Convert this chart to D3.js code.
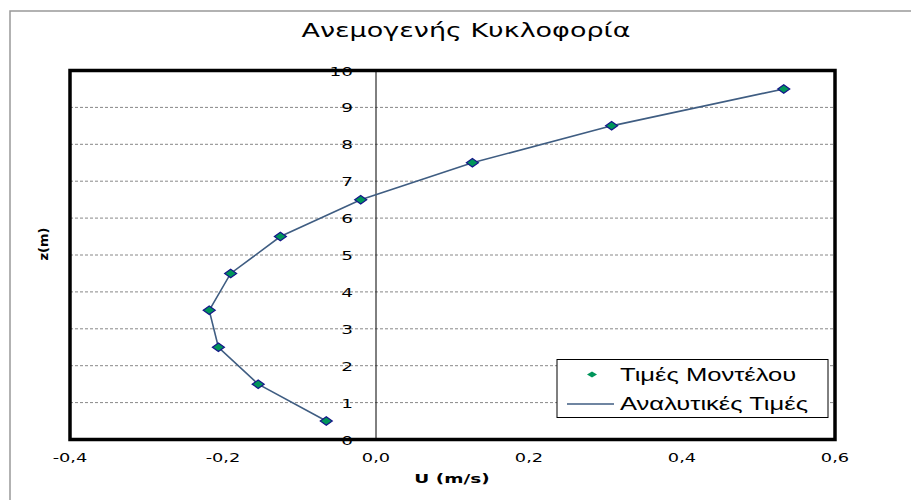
<!DOCTYPE html>
<html lang="el">
<head>
  <meta charset="UTF-8">
  <title>Ανεμογενής Κυκλοφορία</title>
  <script src="https://cdnjs.cloudflare.com/ajax/libs/d3/7.8.5/d3.min.js"></script>
  <style>
    * { margin: 0; padding: 0; }
    html, body { background: #fff; }
    svg { display: block; font-family: "DejaVu Sans", Verdana, sans-serif; }
  </style>
</head>
<body>
<div id="chart"></div>
<script>
  // depth (m) and values U (m/s)
  const zValues = [0.5, 1.5, 2.5, 3.5, 4.5, 5.5, 6.5, 7.5, 8.5, 9.5]
  const modelU = [-0.065, -0.154, -0.206, -0.218, -0.190, -0.125, -0.020, 0.126, 0.308, 0.533]
  const analyticU = [-0.065, -0.154, -0.206, -0.218, -0.190, -0.125, -0.020, 0.126, 0.308, 0.533]
  const xTicks = [-0.4, -0.2, 0.0, 0.2, 0.4, 0.6]
  const yTicks = [0, 1, 2, 3, 4, 5, 6, 7, 8, 9, 10]
  const legendLabels = ['Τιμές Μοντέλου', 'Αναλυτικές Τιμές']

  const W = 911, H = 500
  const plot = { left: 70, right: 835, top: 70.5, bottom: 439.5 }
  // the original picture is stretched sideways, so texts get a wider box
  const stretch = 1.42

  const svg = d3.select('#chart').append('svg')
    .attr('width', W).attr('height', H)

  // outer chart frame
  svg.append('rect')
    .attr('x', 10).attr('y', 11).attr('width', W + 10).attr('height', H + 10)
    .attr('fill', '#fff').attr('stroke', '#999').attr('stroke-width', 1.5)

  const wide = (sel) => sel.each(function() {
    const w = this.getComputedTextLength()
    d3.select(this).attr('textLength', w * stretch).attr('lengthAdjust', 'spacingAndGlyphs')
  })

  svg.append('text')
    .attr('x', 466).attr('y', 37)
    .attr('text-anchor', 'middle')
    .attr('font-size', 19)
    .text('Ανεμογενής Κυκλοφορία')
    .call(wide)

  const x = d3.scaleLinear().domain([-0.4, 0.6]).range([plot.left, plot.right])
  const y = d3.scaleLinear().domain([0, 10]).range([plot.bottom, plot.top])

  // dashed gridlines
  svg.append('g').selectAll('line')
    .data(yTicks.filter(d => d > 0 && d < 10))
    .join('line')
    .attr('x1', plot.left).attr('x2', plot.right)
    .attr('y1', d => y(d)).attr('y2', d => y(d))
    .attr('stroke', '#888').attr('stroke-width', 1)
    .attr('stroke-dasharray', '3,2')

  // vertical axis at U = 0
  svg.append('line')
    .attr('x1', x(0)).attr('x2', x(0))
    .attr('y1', plot.top).attr('y2', plot.bottom)
    .attr('stroke', '#000').attr('stroke-width', 1)

  // x axis tick labels
  const fmt = d => d3.format('.1f')(d).replace('.', ',').replace('−', '-')
  svg.append('g').selectAll('text')
    .data(xTicks).join('text')
    .attr('x', d => x(d)).attr('y', 462)
    .attr('text-anchor', 'middle')
    .attr('font-size', 12.5)
    .text(fmt)
    .call(wide)

  // y tick labels, sitting left of the zero line
  svg.append('g').selectAll('text')
    .data(yTicks).join('text')
    .attr('x', x(0) - 23).attr('y', d => y(d) + 5)
    .attr('text-anchor', 'end')
    .attr('font-size', 13)
    .text(d => d)
    .call(wide)

  // analytic curve
  const line = d3.line()
    .x(d => x(d)).y((d, i) => y(zValues[i]))
  svg.append('path')
    .datum(analyticU)
    .attr('fill', 'none')
    .attr('stroke', '#3f5d82')
    .attr('stroke-width', 1.6)
    .attr('d', line)

  // wide diamond marker
  const diamond = (w, h) => `M${-w / 2},0L0,${-h / 2}L${w / 2},0L0,${h / 2}Z`
  svg.append('g').selectAll('path')
    .data(modelU).join('path')
    .attr('transform', (d, i) => `translate(${x(d)},${y(zValues[i])})`)
    .attr('d', diamond(12, 8.5))
    .attr('fill', '#00955a')
    .attr('stroke', '#15158a')
    .attr('stroke-width', 1.2)

  // plot frame on top
  svg.append('rect')
    .attr('x', plot.left).attr('y', plot.top)
    .attr('width', plot.right - plot.left).attr('height', plot.bottom - plot.top)
    .attr('fill', 'none').attr('stroke', '#000').attr('stroke-width', 3.5)

  // axis titles
  svg.append('text')
    .attr('x', 452).attr('y', 483)
    .attr('text-anchor', 'middle')
    .attr('font-size', 13).attr('font-weight', 'bold')
    .text('U (m/s)')
    .call(wide)
  svg.append('text')
    .attr('transform', 'translate(48,244) rotate(-90)')
    .attr('text-anchor', 'middle')
    .attr('font-size', 13).attr('font-weight', 'bold')
    .text('z(m)')

  // legend
  const lg = svg.append('g')
  lg.append('rect')
    .attr('x', 557).attr('y', 359.5).attr('width', 271).attr('height', 58)
    .attr('fill', '#fff').attr('stroke', '#000').attr('stroke-width', 1)
  lg.append('path')
    .attr('transform', 'translate(592,374.5)')
    .attr('d', diamond(10, 6))
    .attr('fill', '#00955a')
  lg.append('line')
    .attr('x1', 567).attr('x2', 614).attr('y1', 404).attr('y2', 404)
    .attr('stroke', '#3f5d82').attr('stroke-width', 1.6)
  lg.selectAll('text')
    .data(legendLabels).join('text')
    .attr('x', 620).attr('y', (d, i) => 381 + i * 29)
    .attr('font-family', '"Liberation Sans", Arial, sans-serif')
    .attr('font-size', 18)
    .text(d => d)
    .call(wide)
</script>
</body>
</html>
